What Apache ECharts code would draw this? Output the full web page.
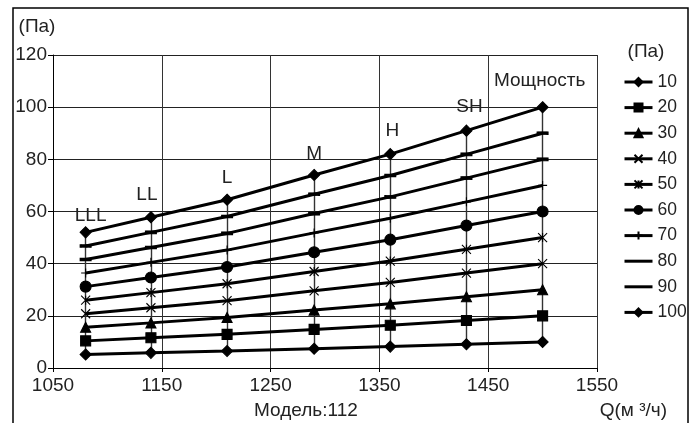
<!DOCTYPE html>
<html>
<head>
<meta charset="utf-8">
<script src="https://cdn.jsdelivr.net/npm/echarts@6/dist/echarts.min.js"></script>
<style>
  html, body { margin: 0; padding: 0; background: #fff; }
  #chart { width: 698px; height: 423px; }
</style>
</head>
<body>
<div id="chart"></div>
<script>
// расход воздуха, м3/ч
var flow = [1080, 1140, 1210, 1290, 1360, 1430, 1500];
// скорости
var speeds = ['LLL', 'LL', 'L', 'M', 'H', 'SH', 'Мощность'];
var seriesNames = ['10', '20', '30', '40', '50', '60', '70', '80', '90', '100'];
// статическое давление, Па
var p10 = [5.2, 5.8, 6.5, 7.4, 8.2, 9.1, 10];
var p20 = [10.4, 11.6, 12.9, 14.8, 16.4, 18.2, 20];
var p30 = [15.6, 17.3, 19.4, 22.2, 24.6, 27.3, 30];
var p40 = [20.8, 23.1, 25.8, 29.6, 32.8, 36.4, 40];
var p50 = [26, 28.9, 32.3, 37, 41, 45.5, 50];
var p60 = [31.2, 34.7, 38.7, 44.4, 49.2, 54.6, 60];
var p70 = [36.4, 40.5, 45.2, 51.8, 57.4, 63.7, 70];
var p80 = [41.6, 46.2, 51.6, 59.2, 65.6, 72.8, 80];
var p90 = [46.8, 52, 58.1, 66.6, 73.8, 81.9, 90];
var p100 = [52, 57.8, 64.5, 74, 82, 91, 100];
var yTicks = [0, 20, 40, 60, 80, 100, 120];
var xTicks = [1050, 1150, 1250, 1350, 1450, 1550];

var allData = [p10, p20, p30, p40, p50, p60, p70, p80, p90, p100];
var textColor = '#222';
var font = 'Liberation Sans, Arial, sans-serif';
var fs = 19;

// маркеры как в excel
var markers = [
  { symbol: 'diamond', size: 11 },
  { symbol: 'rect', size: 10 },
  { symbol: 'triangle', size: 10 },
  { symbol: 'path://M0,0L10,10M10,0L0,10', size: 9 },
  { symbol: 'path://M0,0L10,10M10,0L0,10M5,0L5,10', size: 9 },
  { symbol: 'circle', size: 11 },
  { symbol: 'path://M5,0L5,10M0,5L10,5', size: 9 },
  { symbol: 'rect', size: [10, 3] },
  { symbol: 'rect', size: [10, 3] },
  { symbol: 'diamond', size: 11 }
];
// сдвиг подписей скоростей
var labelOffsets = [[5, 7], [-4, 1], [0, 2], [0, 2], [2, 0], [3, 0], [-3, -3]];

function pairs(arr) {
  return arr.map(function (v, i) { return [flow[i], v]; });
}

var chart = echarts.init(document.getElementById('chart'));

var series = allData.map(function (arr, k) {
  var m = markers[k];
  var s = {
    name: seriesNames[k],
    type: 'line',
    data: pairs(arr),
    symbol: m.symbol,
    symbolSize: m.size,
    showAllSymbol: true,
    lineStyle: { color: '#000', width: 3 },
    itemStyle: { color: '#000', borderColor: '#000', borderWidth: 1.1 },
    emphasis: { disabled: true },
    z: 3
  };
  if (k === allData.length - 1) {
    s.data = arr.map(function (v, i) {
      return {
        value: [flow[i], v],
        label: {
          show: true,
          position: 'top',
          distance: 8,
          offset: labelOffsets[i],
          formatter: speeds[i],
          fontSize: fs,
          fontFamily: font,
          color: textColor
        }
      };
    });
  }
  if (k === 0) {
    // вертикальные линии на каждой скорости
    s.markLine = {
      silent: true,
      symbol: 'none',
      label: { show: false },
      lineStyle: { color: '#333', width: 1.4, type: 'solid' },
      z: 1,
      data: flow.map(function (x, i) {
        return [{ coord: [x, p10[i]] }, { coord: [x, p100[i]] }];
      })
    };
  }
  return s;
});

// в легенде у 80 и 90 только линия
var legendData = seriesNames.map(function (n, k) {
  if (markers[k].size instanceof Array) {
    return { name: n, itemStyle: { opacity: 0 } };
  }
  return { name: n };
});

var option = {
  animation: false,
  backgroundColor: '#fff',
  textStyle: { fontFamily: font },
  grid: { left: 53, right: 101, top: 55, bottom: 55 },
  legend: {
    orient: 'vertical',
    left: 623,
    top: 73,
    padding: 0,
    itemWidth: 28,
    itemHeight: 10,
    itemGap: 7.6,
    data: legendData,
    lineStyle: { width: 3 },
    textStyle: { fontSize: 17.5, color: textColor }
  },
  xAxis: {
    type: 'value',
    min: xTicks[0],
    max: xTicks[xTicks.length - 1],
    interval: 100,
    axisLine: { show: true, lineStyle: { color: '#000', width: 1 } },
    axisTick: { show: true, length: 4, lineStyle: { color: '#000' } },
    axisLabel: { fontSize: fs, color: textColor, margin: 8, formatter: function (v) { return String(v); } },
    splitLine: { show: true, lineStyle: { color: '#333', width: 1 } }
  },
  yAxis: {
    type: 'value',
    min: yTicks[0],
    max: yTicks[yTicks.length - 1],
    interval: 20,
    axisLine: { show: true, lineStyle: { color: '#000', width: 1 } },
    axisTick: { show: true, length: 5, lineStyle: { color: '#000' } },
    axisLabel: { fontSize: fs, color: textColor, margin: 6, formatter: function (v) { return String(v); } },
    splitLine: { show: true, lineStyle: { color: '#222', width: 1 } }
  },
  graphic: [
    {
      type: 'rect',
      shape: { x: 13, y: 8, width: 675, height: 440 },
      style: { fill: 'none', stroke: '#000', lineWidth: 1.5 },
      silent: true
    },
    {
      type: 'text', x: 37, y: 27,
      style: { text: '(Па)', fontSize: fs, fontFamily: font, fill: textColor, align: 'center', verticalAlign: 'middle' }
    },
    {
      type: 'text', x: 646, y: 52,
      style: { text: '(Па)', fontSize: fs, fontFamily: font, fill: textColor, align: 'center', verticalAlign: 'middle' }
    },
    {
      type: 'text', x: 254, y: 411,
      style: { text: 'Модель:112', fontSize: fs, fontFamily: font, fill: textColor, align: 'left', verticalAlign: 'middle' }
    },
    {
      type: 'text', x: 667, y: 411,
      style: { text: 'Q(м ³/ч)', fontSize: fs, fontFamily: font, fill: textColor, align: 'right', verticalAlign: 'middle' }
    }
  ],
  series: series
};

chart.setOption(option);
</script>
</body>
</html>
